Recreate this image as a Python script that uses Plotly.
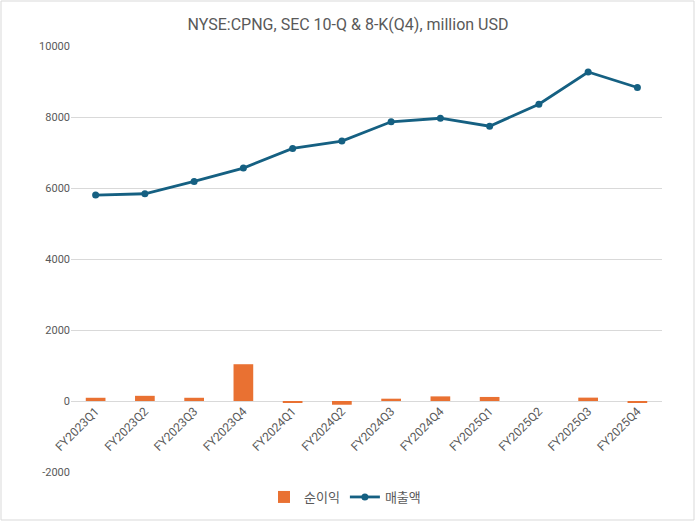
import plotly.graph_objects as go

quarters = ["FY2023Q1", "FY2023Q2", "FY2023Q3", "FY2023Q4",
            "FY2024Q1", "FY2024Q2", "FY2024Q3", "FY2024Q4",
            "FY2025Q1", "FY2025Q2", "FY2025Q3", "FY2025Q4"]
revenue = [5801, 5838, 6184, 6561, 7114, 7323, 7866, 7965, 7740, 8360, 9267, 8830]
net_income = [91, 146, 91, 1036, -30, -105, 65, 130, 114, 0, 95, -30]
y_tick_values = [-2000, 0, 2000, 4000, 6000, 8000, 10000]
y_tick_labels = ["-2000", "0", "2000", "4000", "6000", "8000", "10000"]

W, H = 696, 522
ml, mr, mt, mb = 71, 34, 46, 50
pw, ph = W - ml - mr, H - mt - mb

fig = go.Figure()
fig.add_trace(go.Bar(x=quarters, y=net_income, name="순이익",
                     marker=dict(color="#E97132", line=dict(width=0))))
fig.add_trace(go.Scatter(x=quarters, y=revenue, name="매출액", mode="lines+markers",
                         line=dict(color="#156082", width=2.8),
                         marker=dict(color="#156082", size=7)))

ymin, ymax = -2000, 10000
fig.update_layout(
    width=W, height=H,
    margin=dict(l=ml, r=mr, t=mt, b=mb, autoexpand=False),
    paper_bgcolor="white", plot_bgcolor="white",
    font=dict(family="Roboto, Noto Sans CJK KR", color="#595959", size=11),
    title=dict(text="NYSE:CPNG, SEC 10-Q & 8-K(Q4), million USD",
               x=0.5, xanchor="center", y=1 - 24 / H, yanchor="middle",
               font=dict(size=16, color="#595959")),
    bargap=0.6,
    showlegend=True,
    legend=dict(orientation="h", x=(345 - ml) / pw, xanchor="center", y=-(497 - mt - ph) / ph,
                yanchor="middle", font=dict(size=13, color="#595959"),
                itemwidth=30, traceorder="normal"),
    xaxis=dict(anchor="free", position=(0 - ymin) / (ymax - ymin), automargin=False,
               range=[-0.5, len(quarters) - 0.5],
               tickangle=-45, showgrid=False, showline=False,
               ticks="", tickfont=dict(size=12, color="#595959")),
    yaxis=dict(range=[ymin, ymax], tickvals=y_tick_values, ticktext=y_tick_labels,
               automargin=False, showgrid=True, layer="below traces",
               gridcolor="#D9D9D9", gridwidth=1, zeroline=False, showline=False,
               ticks="", tickfont=dict(size=11, color="#595959")),
)
fig.add_shape(type="rect", xref="paper", yref="paper",
              x0=-(ml - 1) / pw, x1=1 + (mr - 2) / pw,
              y0=-(mb - 2) / ph, y1=1 + (mt - 1) / ph,
              line=dict(color="#D9D9D9", width=1), fillcolor="rgba(0,0,0,0)", layer="below")
fig.write_html("out.html")
